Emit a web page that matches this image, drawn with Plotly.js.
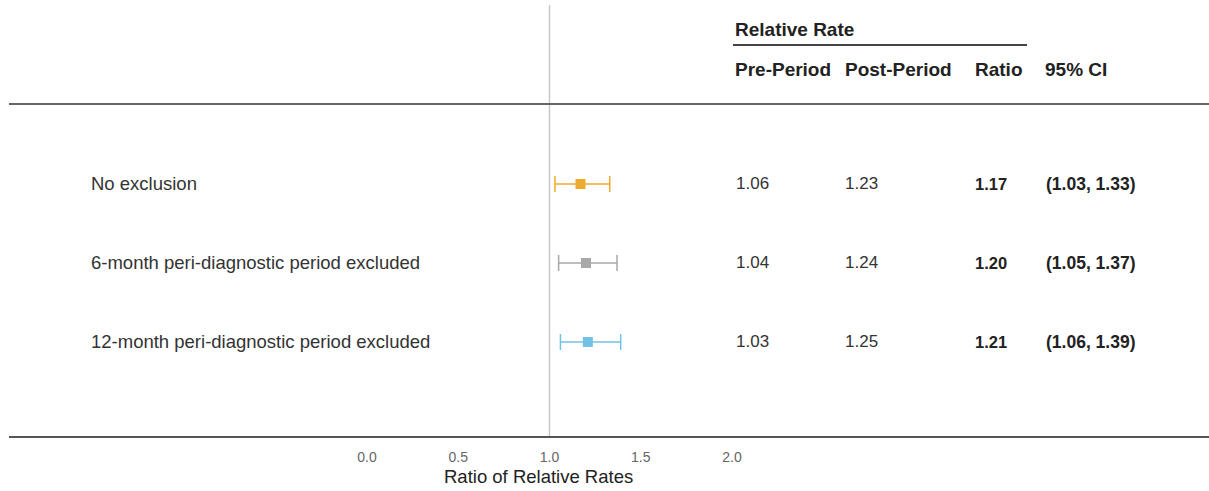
<!DOCTYPE html>
<html>
<head>
<meta charset="utf-8">
<script src="https://cdn.plot.ly/plotly-3.0.1.min.js"></script>
<style>html,body{margin:0;padding:0;background:#fff;}#chart{width:1209px;height:491px;}</style>
</head>
<body>
<div id="chart"></div>
<script>
// ---- data ----
const labels = ["No exclusion", "6-month peri-diagnostic period excluded", "12-month peri-diagnostic period excluded"];
const ratio = [1.17, 1.20, 1.21];
const ciLow = [1.03, 1.05, 1.06];
const ciHigh = [1.33, 1.37, 1.39];
const prePeriod = [1.06, 1.04, 1.03];
const postPeriod = [1.23, 1.24, 1.25];
const tickVals = [0, 0.5, 1, 1.5, 2];
const tickText = ["0.0", "0.5", "1.0", "1.5", "2.0"];
const colHeaders = ["Pre-Period", "Post-Period", "Ratio", "95% CI"];
const groupHeader = "Relative Rate";
const xTitle = "Ratio of Relative Rates";

// ---- style ----
const W = 1209, H = 491, B = 54, PH = H - B;
const colors = ["#EEAA2E", "#A8A8A8", "#72C2E6"];
const font = "Liberation Sans, Arial, sans-serif";
const px = v => v / W;
const py = v => 1 - v / PH;
const rows = labels.map((_, i) => i);

const traces = rows.map(i => ({
  type: "scatter", mode: "markers",
  x: [ratio[i]], y: [i],
  marker: {symbol: "square", size: 10, color: colors[i]},
  error_x: {type: "data", symmetric: false,
    array: [ciHigh[i] - ratio[i]], arrayminus: [ratio[i] - ciLow[i]],
    color: colors[i], thickness: 1.5, width: 8},
  hoverinfo: "skip", showlegend: false
}));

const ann = [];
const colX = [734, 843, 973, 1044];
rows.forEach(i => {
  ann.push({text: labels[i], x: px(89), xref: "paper", y: i, yref: "y", xanchor: "left", showarrow: false, font: {family: font, size: 18.5, color: "#333"}});
  ann.push({text: prePeriod[i].toFixed(2), x: px(colX[0]), xref: "paper", y: i, yref: "y", xanchor: "left", showarrow: false, font: {family: font, size: 17, color: "#333"}});
  ann.push({text: postPeriod[i].toFixed(2), x: px(colX[1]), xref: "paper", y: i, yref: "y", xanchor: "left", showarrow: false, font: {family: font, size: 17, color: "#333"}});
  ann.push({text: "<b>" + ratio[i].toFixed(2) + "</b>", x: px(colX[2]), xref: "paper", y: i, yref: "y", xanchor: "left", showarrow: false, font: {family: font, size: 16.5, color: "#222"}});
  ann.push({text: "<b>(" + ciLow[i].toFixed(2) + ", " + ciHigh[i].toFixed(2) + ")</b>", x: px(colX[3]), xref: "paper", y: i, yref: "y", xanchor: "left", showarrow: false, font: {family: font, size: 17.5, color: "#222"}});
});
ann.push({text: "<b>" + groupHeader + "</b>", x: px(733), xref: "paper", y: py(29), yref: "paper", xanchor: "left", yanchor: "middle", showarrow: false, font: {family: font, size: 19, color: "#222"}});
const hdrX = [733, 843, 973, 1043];
colHeaders.forEach((h, k) => {
  ann.push({text: "<b>" + h + "</b>", x: px(hdrX[k]), xref: "paper", y: py(69), yref: "paper", xanchor: "left", yanchor: "middle", showarrow: false, font: {family: font, size: 19, color: "#222"}});
});
ann.push({text: xTitle, x: px(538), xref: "paper", y: py(476), yref: "paper", xanchor: "center", yanchor: "middle", showarrow: false, font: {family: font, size: 18.5, color: "#222"}});

const shapes = [
  {type: "line", xref: "paper", yref: "paper", x0: px(9), x1: 1, y0: py(104), y1: py(104), line: {color: "#666", width: 2}},
  {type: "line", xref: "paper", yref: "paper", x0: px(9), x1: 1, y0: 0, y1: 0, line: {color: "#555", width: 2}},
  {type: "line", xref: "paper", yref: "paper", x0: px(733), x1: px(1027), y0: py(45), y1: py(45), line: {color: "#444", width: 2}},
  {type: "line", xref: "x", yref: "paper", x0: 1, x1: 1, y0: 0, y1: py(5), line: {color: "#C8C8C8", width: 1.5}, layer: "below"}
];

const layout = {
  width: W, height: H,
  margin: {l: 0, r: 0, t: 0, b: B, pad: 0},
  paper_bgcolor: "#fff", plot_bgcolor: "#fff",
  showlegend: false,
  xaxis: {
    domain: [px(345), px(734)], range: [-22 / 182.5, 2 + 2 / 182.5],
    tickvals: tickVals, ticktext: tickText,
    showgrid: false, zeroline: false, showline: false, ticks: "",
    ticklabelstandoff: 10,
    tickfont: {family: font, size: 14, color: "#666"},
    fixedrange: true
  },
  yaxis: {range: [3.203, -2.329], visible: false, fixedrange: true},
  annotations: ann, shapes: shapes
};

Plotly.newPlot("chart", traces, layout, {displayModeBar: false, staticPlot: true});
</script>
</body>
</html>
